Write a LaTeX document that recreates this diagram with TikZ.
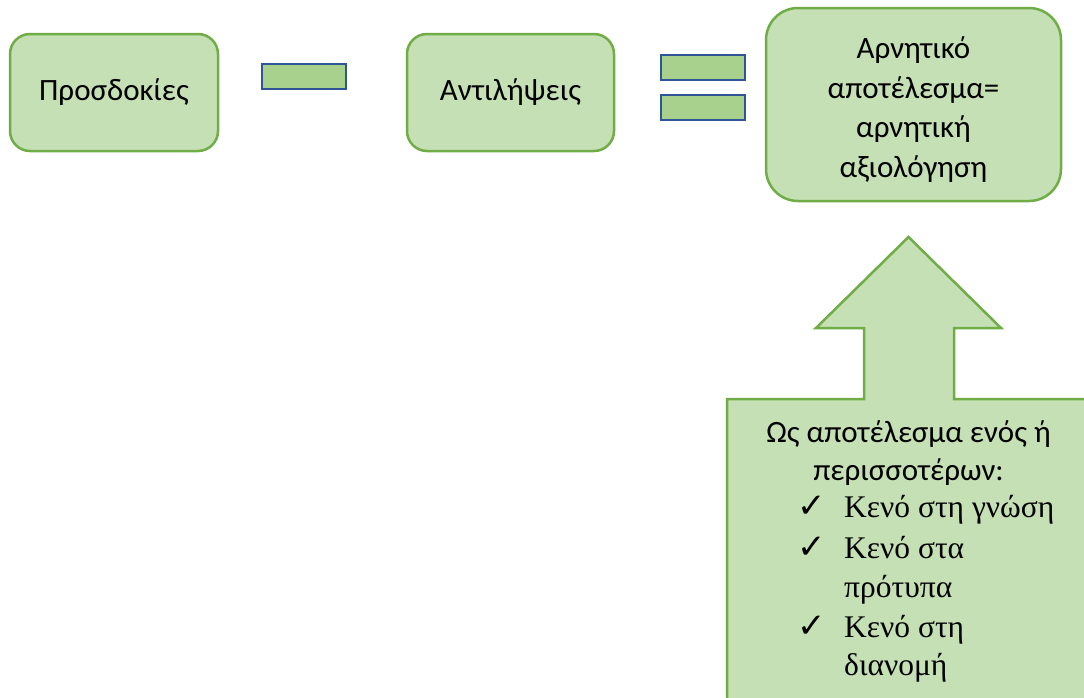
\documentclass[tikz,border=0pt]{standalone}
\usepackage{fontspec}
\setmainfont{Carlito}
\newfontfamily\listfont{Liberation Serif}
\newfontfamily\tickfont{DejaVu Sans}
\definecolor{boxfill}{HTML}{C5E0B4}
\definecolor{boxline}{HTML}{70AD47}
\definecolor{barfill}{HTML}{A9D18E}
\definecolor{barline}{HTML}{2F5597}
\tikzset{
  stage/.style={draw=boxline,fill=boxfill,line width=2.5pt,rounded corners=20pt,align=center,inner sep=0pt},
  bar/.style={draw=barline,fill=barfill,line width=2.5pt,minimum width=84pt,minimum height=25pt,inner sep=0pt},
  item/.style={anchor=base west,inner sep=0pt,font=\listfont\fontsize{31.5}{40}\selectfont},
  tick/.style={anchor=base west,inner sep=0pt,font=\tickfont\fontsize{34}{40}\selectfont},
  line/.style={anchor=base,inner sep=0pt}
}
\begin{document}
\begin{tikzpicture}[x=1pt,y=-1pt,font=\fontsize{31}{39.5}\selectfont]
		\clip (0,0) rectangle (1084,697);
		\fill[white] (0,0) rectangle (1084,697);
		\node[stage,minimum width=208pt,minimum height=117pt] (exp) at (114,92.5) {Προσδοκίες};
		\node[bar] (minus) at (304,76.5) {};
		\node[stage,minimum width=207pt,minimum height=117pt] (perc) at (510.5,92.5) {Αντιλήψεις};
		\node[bar] (eqa) at (703,67.5) {};
		\node[bar] (eqb) at (703,107.5) {};
		\node[stage,rounded corners=32pt,minimum width=295pt,minimum height=193pt] (res) at (913.5,104.5) {};
		\node[align=center,inner sep=0pt] (restext) at ([yshift=-5pt]res.center) {Αρνητικό\\αποτέλεσμα=\\αρνητική\\αξιολόγηση};
		\draw[draw=boxline,fill=boxfill,line width=2.5pt] (727,705)--(727,399)--(864,399)--(864,328)--(816,328)--(908.5,237)--(1001,328)--(954,328)--(954,399)--(1095,399)--(1095,705)--cycle;
		\node[line] (ca) at (908.5,442) {Ως αποτέλεσμα ενός ή};
		\node[line] (cb) at (908.5,480) {περισσοτέρων:};
		\node[tick] (t1) at (797,517) {✓};
		\node[item] (k1) at (844,517) {Κενό στη γνώση};
		\node[tick] (t2) at (797,558) {✓};
		\node[item] (k2) at (844,558) {Κενό στα};
		\node[item] (k2b) at (844,597) {πρότυπα};
		\node[tick] (t3) at (797,637) {✓};
		\node[item] (k3) at (844,637) {Κενό στη};
		\node[item] (k3b) at (844,675) {διανομή};
\end{tikzpicture}
\end{document}
